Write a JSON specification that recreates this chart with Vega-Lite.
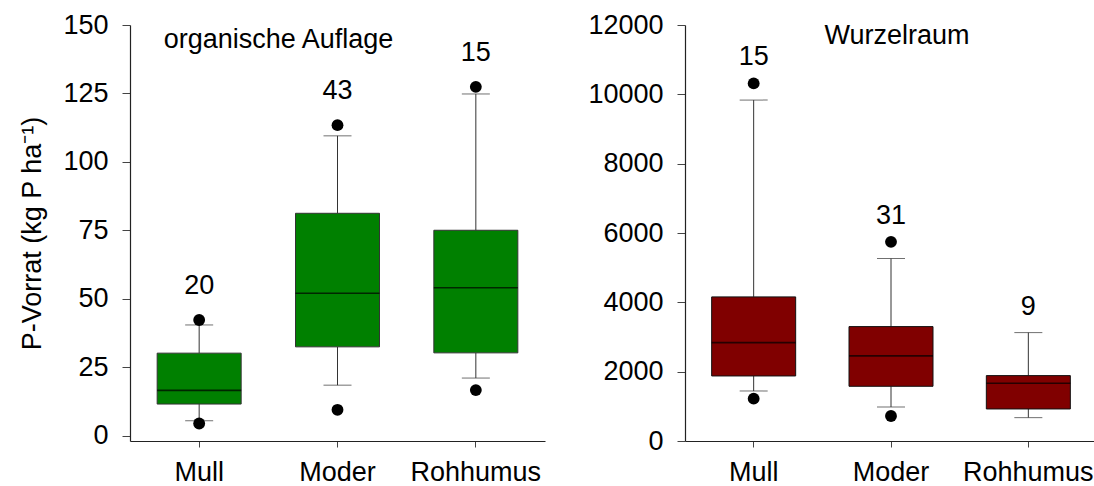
{
  "$schema": "https://vega.github.io/schema/vega-lite/v6.json",
  "padding": {"left": 18, "top": 11, "right": 0, "bottom": 0},
  "spacing": 42,
  "config": {
    "font": "Liberation Sans",
    "view": {"stroke": null},
    "axis": {
      "labelFont": "Liberation Sans",
      "labelFontSize": 27,
      "labelColor": "#000000",
      "titleFont": "Liberation Sans",
      "titleFontSize": 27,
      "titleFontWeight": "normal",
      "titleColor": "#000000",
      "domainColor": "#222222",
      "domainWidth": 1.2,
      "tickColor": "#444444",
      "tickWidth": 1,
      "grid": false
    },
    "axisX": {"tickSize": 6, "labelPadding": 12, "labelAngle": 0},
    "axisY": {"tickSize": 8, "labelPadding": 14, "titlePadding": 16},
    "scale": {"bandPaddingInner": 0, "bandPaddingOuter": 0}
  },
  "datasets": {
    "auflage_boxes": [
      {"humus": "Mull", "lower": 5.4, "q1": 11.5, "median": 16.5, "q3": 30.1, "upper": 40.4, "max": 42.2, "n": "20"},
      {"humus": "Moder", "lower": 18.4, "q1": 32.4, "median": 52.0, "q3": 81.2, "upper": 109.5, "max": 113.4, "n": "43"},
      {"humus": "Rohhumus", "lower": 21.0, "q1": 30.2, "median": 54.0, "q3": 75.0, "upper": 124.8, "max": 127.4, "n": "15"}
    ],
    "auflage_out": [
      {"humus": "Mull", "value": 42.2},
      {"humus": "Mull", "value": 4.4},
      {"humus": "Moder", "value": 113.4},
      {"humus": "Moder", "value": 9.4},
      {"humus": "Rohhumus", "value": 127.4},
      {"humus": "Rohhumus", "value": 16.6}
    ],
    "wurzel_boxes": [
      {"humus": "Mull", "lower": 1443, "q1": 1876, "median": 2839, "q3": 4157, "upper": 9834, "max": 10315, "n": "15"},
      {"humus": "Moder", "lower": 981, "q1": 1578, "median": 2455, "q3": 3300, "upper": 5264, "max": 5744, "n": "31"},
      {"humus": "Rohhumus", "lower": 674, "q1": 924, "median": 1665, "q3": 1886, "upper": 3127, "max": 3127, "n": "9"}
    ],
    "wurzel_out": [
      {"humus": "Mull", "value": 10315},
      {"humus": "Mull", "value": 1222},
      {"humus": "Moder", "value": 5744},
      {"humus": "Moder", "value": 722}
    ]
  },
  "hconcat": [
    {
      "width": 415,
      "height": 416,
      "data": {"name": "auflage_boxes"},
      "encoding": {
        "x": {"field": "humus", "type": "nominal", "sort": ["Mull", "Moder", "Rohhumus"], "axis": {"title": null}}
      },
      "layer": [
        {
          "mark": {"type": "rule", "color": "#333333", "strokeWidth": 1},
          "encoding": {
            "y": {"field": "lower", "type": "quantitative", "scale": {"domain": [-2, 150], "nice": false, "zero": false},
                  "axis": {"values": [0, 25, 50, 75, 100, 125, 150], "title": "P-Vorrat (kg P ha⁻¹)"}},
            "y2": {"field": "q1"}
          }
        },
        {
          "mark": {"type": "rule", "color": "#333333", "strokeWidth": 1},
          "encoding": {"y": {"field": "q3", "type": "quantitative"}, "y2": {"field": "upper"}}
        },
        {
          "mark": {"type": "tick", "color": "#333333", "size": 28, "thickness": 1, "orient": "horizontal"},
          "encoding": {"y": {"field": "lower", "type": "quantitative"}}
        },
        {
          "mark": {"type": "tick", "color": "#333333", "size": 28, "thickness": 1, "orient": "horizontal"},
          "encoding": {"y": {"field": "upper", "type": "quantitative"}}
        },
        {
          "mark": {"type": "bar", "width": 84, "fill": "#008000", "stroke": "#333333", "strokeWidth": 1},
          "encoding": {"y": {"field": "q1", "type": "quantitative"}, "y2": {"field": "q3"}}
        },
        {
          "mark": {"type": "tick", "color": "#000000", "size": 84, "thickness": 1.6, "orient": "horizontal"},
          "encoding": {"y": {"field": "median", "type": "quantitative"}}
        },
        {
          "data": {"name": "auflage_out"},
          "mark": {"type": "point", "filled": true, "color": "#000000", "size": 140, "opacity": 1},
          "encoding": {"y": {"field": "value", "type": "quantitative"}}
        },
        {
          "mark": {"type": "text", "fontSize": 27, "color": "#000000", "baseline": "middle", "dy": -34},
          "encoding": {"y": {"field": "max", "type": "quantitative"}, "text": {"field": "n"}}
        },
        {
          "data": {"values": [{"label": "organische Auflage"}]},
          "mark": {"type": "text", "fontSize": 27, "color": "#000000", "baseline": "alphabetic", "align": "center", "dx": -59},
          "encoding": {
            "x": {"datum": "Moder", "type": "nominal"},
            "y": {"datum": 141.5, "type": "quantitative"},
            "text": {"field": "label"}
          }
        }
      ]
    },
    {
      "width": 412,
      "height": 416,
      "data": {"name": "wurzel_boxes"},
      "encoding": {
        "x": {"field": "humus", "type": "nominal", "sort": ["Mull", "Moder", "Rohhumus"], "axis": {"title": null}}
      },
      "layer": [
        {
          "mark": {"type": "rule", "color": "#333333", "strokeWidth": 1},
          "encoding": {
            "y": {"field": "lower", "type": "quantitative", "scale": {"domain": [0, 12000], "nice": false},
                  "axis": {"values": [0, 2000, 4000, 6000, 8000, 10000, 12000], "format": "d", "title": null}},
            "y2": {"field": "q1"}
          }
        },
        {
          "mark": {"type": "rule", "color": "#333333", "strokeWidth": 1},
          "encoding": {"y": {"field": "q3", "type": "quantitative"}, "y2": {"field": "upper"}}
        },
        {
          "mark": {"type": "tick", "color": "#333333", "size": 28, "thickness": 1, "orient": "horizontal"},
          "encoding": {"y": {"field": "lower", "type": "quantitative"}}
        },
        {
          "mark": {"type": "tick", "color": "#333333", "size": 28, "thickness": 1, "orient": "horizontal"},
          "encoding": {"y": {"field": "upper", "type": "quantitative"}}
        },
        {
          "mark": {"type": "bar", "width": 84, "fill": "#800000", "stroke": "#111111", "strokeWidth": 1},
          "encoding": {"y": {"field": "q1", "type": "quantitative"}, "y2": {"field": "q3"}}
        },
        {
          "mark": {"type": "tick", "color": "#000000", "size": 84, "thickness": 1.6, "orient": "horizontal"},
          "encoding": {"y": {"field": "median", "type": "quantitative"}}
        },
        {
          "data": {"name": "wurzel_out"},
          "mark": {"type": "point", "filled": true, "color": "#000000", "size": 140, "opacity": 1},
          "encoding": {"y": {"field": "value", "type": "quantitative"}}
        },
        {
          "mark": {"type": "text", "fontSize": 27, "color": "#000000", "baseline": "middle", "dy": -26},
          "encoding": {"y": {"field": "max", "type": "quantitative"}, "text": {"field": "n"}}
        },
        {
          "data": {"values": [{"label": "Wurzelraum"}]},
          "mark": {"type": "text", "fontSize": 27, "color": "#000000", "baseline": "alphabetic", "align": "center", "dx": 6},
          "encoding": {
            "x": {"datum": "Moder", "type": "nominal"},
            "y": {"datum": 11450, "type": "quantitative"},
            "text": {"field": "label"}
          }
        }
      ]
    }
  ]
}
